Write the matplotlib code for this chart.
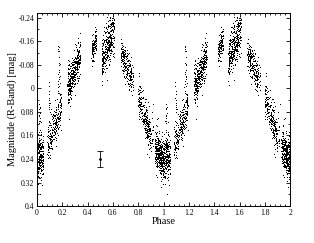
import matplotlib
matplotlib.use('Agg')
import matplotlib.pyplot as plt
from matplotlib.ticker import MultipleLocator, FuncFormatter
import numpy as np

plt.rcParams['font.family'] = ['Liberation Serif', 'DejaVu Serif']

# observing-run clusters of the folded light curve (phase in 0..1)
# phase start/end, magnitude at start/end, scatter, number of points
phase_lo = [0.93, 0.00, 0.08, 0.24, 0.43, 0.51, 0.66, 0.80]
phase_hi = [1.00, 0.05, 0.19, 0.34, 0.47, 0.61, 0.76, 0.90]
mag_lo   = [0.20, 0.25, 0.20, 0.00, -0.12, -0.10, -0.11, 0.03]
mag_hi   = [0.25, 0.22, 0.06, -0.11, -0.16, -0.19, -0.02, 0.18]
mag_sig  = [0.035, 0.04, 0.035, 0.032, 0.022, 0.035, 0.028, 0.033]
n_pts    = [330, 200, 230, 330, 100, 330, 200, 230]

# sparse stragglers: phase, magnitude range, number of points
sparse_phase = [0.17, 0.095, 0.91, 0.68, 0.02]
sparse_lo    = [-0.14, -0.02, 0.05, -0.15, 0.05]
sparse_hi    = [0.02, 0.10, 0.22, -0.05, 0.12]
sparse_n     = [25, 12, 15, 10, 10]

# typical error bar
err_phase = 0.5
err_mag = 0.24
err_size = 0.026

rng = np.random.default_rng(3)
ph_all = []
mg_all = []
for lo, hi, m0, m1, s, n in zip(phase_lo, phase_hi, mag_lo, mag_hi, mag_sig, n_pts):
    p = rng.uniform(lo, hi, n)
    m = m0 + (m1 - m0) * (p - lo) / (hi - lo) + rng.normal(0, s, n)
    ph_all.append(p)
    mg_all.append(m)
for pc, lo, hi, n in zip(sparse_phase, sparse_lo, sparse_hi, sparse_n):
    ph_all.append(pc + rng.normal(0, 0.004, n))
    mg_all.append(rng.uniform(lo, hi, n))
ph = np.concatenate(ph_all) % 1.0
mg = np.concatenate(mg_all)

fig = plt.figure(figsize=(3.14, 2.43), dpi=100)
ax = fig.add_axes([0.118, 0.152, 0.806, 0.795])

ax.plot(np.concatenate([ph, ph + 1]), np.concatenate([mg, mg]), ',',
        color='black', linestyle='none')
ax.errorbar(err_phase, err_mag, yerr=err_size, fmt='o', ms=1, color='black',
            capsize=2, elinewidth=0.6, capthick=0.6)

ax.set_xlim(0, 2)
ax.set_ylim(0.4, -0.256)
ax.xaxis.set_major_locator(MultipleLocator(0.2))
ax.xaxis.set_minor_locator(MultipleLocator(0.04))
ax.yaxis.set_major_locator(MultipleLocator(0.08))
ax.yaxis.set_minor_locator(MultipleLocator(0.04))
fmt = FuncFormatter(lambda v, pos: '%g' % round(v, 3))
ax.xaxis.set_major_formatter(fmt)
ax.yaxis.set_major_formatter(fmt)
ax.tick_params(which='both', direction='in', top=True, right=True,
               labelsize=5.5, width=0.6, pad=2)
ax.tick_params(which='major', length=3)
ax.tick_params(which='minor', length=1.5)
for sp in ax.spines.values():
    sp.set_linewidth(0.7)

ax.set_xlabel('Phase', fontsize=7.5, labelpad=0)
ax.set_ylabel('Magnitude (R-Band) [mag]', fontsize=7.5, labelpad=1)

fig.savefig('out.png', dpi=100, facecolor='white')
